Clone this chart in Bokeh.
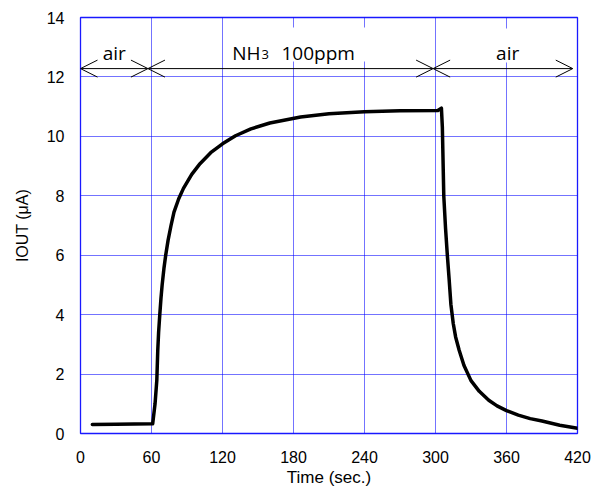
from bokeh.plotting import figure
from bokeh.models import Label, Arrow, OpenHead, FixedTicker, Range1d, BoxAnnotation
from bokeh.embed import file_html
from bokeh.resources import INLINE

# ---- data ----
time_s = [10, 30, 61, 63, 64.5, 65.3, 66, 67, 68, 69, 70.5, 72, 74, 76.5, 79, 83, 87, 94, 101,
          110, 120, 131, 144, 160, 186, 210, 240, 270, 302, 305, 305.8, 307, 308.5, 310, 311.5,
          313, 315, 317, 320, 324, 330, 337, 345, 352, 360, 370, 380, 390, 405, 420]
i_out = [0.30, 0.31, 0.33, 1.0, 1.8, 2.8, 3.4, 4.0, 4.55, 5.0, 5.55, 6.0, 6.5, 7.0, 7.45, 7.9,
         8.25, 8.72, 9.08, 9.45, 9.75, 10.02, 10.25, 10.45, 10.65, 10.76, 10.83, 10.86, 10.87,
         10.95, 10.3, 8.0, 6.9, 6.0, 5.2, 4.35, 3.7, 3.25, 2.8, 2.3, 1.78, 1.42, 1.12, 0.93,
         0.77, 0.62, 0.5, 0.42, 0.28, 0.18]

x_ticks = [0, 60, 120, 180, 240, 300, 360, 420]
y_ticks = [0, 2, 4, 6, 8, 10, 12, 14]
phase_edges = [0, 57, 298, 416]
phase_names = ["air", "NH3 100ppm", "air"]
arrow_level = 12.28

X0, X1, Y0, Y1 = 0, 420, 0, 14
# frame in page pixels (for placing annotation texts)
FL, FR, FT, FB = 80, 577, 17, 433


def xpx(px):
    return X0 + (px - FL) * (X1 - X0) / (FR - FL)


def ypx(px):
    return Y0 + (FB - px) * (Y1 - Y0) / (FB - FT)


p = figure(width=597, height=492, x_range=Range1d(X0, X1), y_range=Range1d(Y0, Y1),
           output_backend="svg", toolbar_location=None,
           min_border_left=FL, min_border_right=597 - FR, min_border_top=FT,
           min_border_bottom=492 - FB)
p.background_fill_color = "white"
p.border_fill_color = "white"
p.outline_line_color = "#0000ff"
p.outline_line_width = 1.3
p.outline_line_alpha = 0.9

for ax, ticks in ((p.xaxis, x_ticks), (p.yaxis, y_ticks)):
    ax.ticker = FixedTicker(ticks=ticks)
    ax.axis_line_color = None
    ax.major_tick_line_color = None
    ax.minor_tick_line_color = None
    ax.major_tick_out = 0
    ax.major_tick_in = 0
    ax.major_label_text_font = "Liberation Sans"
    ax.major_label_text_font_size = "16px"
    ax.major_label_text_color = "black"
    ax.axis_label_text_font = "Liberation Sans"
    ax.axis_label_text_font_style = "normal"
    ax.axis_label_text_color = "black"
p.xaxis.major_label_standoff = 17
p.yaxis.major_label_standoff = 16
p.xaxis.axis_label = "Time (sec.)"
p.xaxis.axis_label_text_font_size = "17px"
p.xaxis.axis_label_standoff = 2
p.yaxis.axis_label = "IOUT (μA)"
p.yaxis.axis_label_text_font_size = "16px"
p.yaxis.axis_label_standoff = 13

p.xgrid.ticker = FixedTicker(ticks=x_ticks)
p.ygrid.ticker = FixedTicker(ticks=y_ticks)
for g in (p.xgrid, p.ygrid):
    g.grid_line_color = "#0000ff"
    g.grid_line_alpha = 0.55
    g.grid_line_width = 1

p.line(time_s, i_out, line_color="black", line_width=3.5, line_join="round", line_cap="round")

# white boxes behind the phase names
p.add_layout(BoxAnnotation(left=xpx(228), right=xpx(372), top=ypx(27), bottom=ypx(61),
                           fill_color="white", fill_alpha=1, line_color=None))
p.add_layout(BoxAnnotation(left=xpx(486), right=xpx(530), top=ypx(28), bottom=ypx(62),
                           fill_color="white", fill_alpha=1, line_color=None))

# double-headed arrows for the phases
for a, b in zip(phase_edges[:-1], phase_edges[1:]):
    p.add_layout(Arrow(x_start=a, y_start=arrow_level, x_end=b, y_end=arrow_level,
                       line_color="black", line_width=1,
                       start=OpenHead(size=17, line_width=1, line_color="black"),
                       end=OpenHead(size=17, line_width=1, line_color="black")))

font_a = "Open Sans"
fs = "19px"
base_y = ypx(52)
mids = [(a + b) / 2 for a, b in zip(phase_edges[:-1], phase_edges[1:])]
common = dict(text_baseline="alphabetic", text_font=font_a, text_color="black")
p.add_layout(Label(x=mids[0], y=base_y, text=phase_names[0], text_align="center",
                   text_font_size=fs, **common))
p.add_layout(Label(x=mids[2] + 4, y=base_y, text=phase_names[2], text_align="center",
                   text_font_size=fs, **common))
# "NH3 100ppm" with a smaller "3"
p.add_layout(Label(x=xpx(260), y=base_y, text="NH", text_align="right",
                   text_font_size=fs, **common))
p.add_layout(Label(x=xpx(261), y=ypx(54), text="3", text_align="left",
                   text_font_size="13px", **common))
p.add_layout(Label(x=xpx(281), y=base_y, text="100ppm", text_align="left",
                   text_font_size=fs, **common))

open("out.html", "w").write(file_html(p, INLINE))
